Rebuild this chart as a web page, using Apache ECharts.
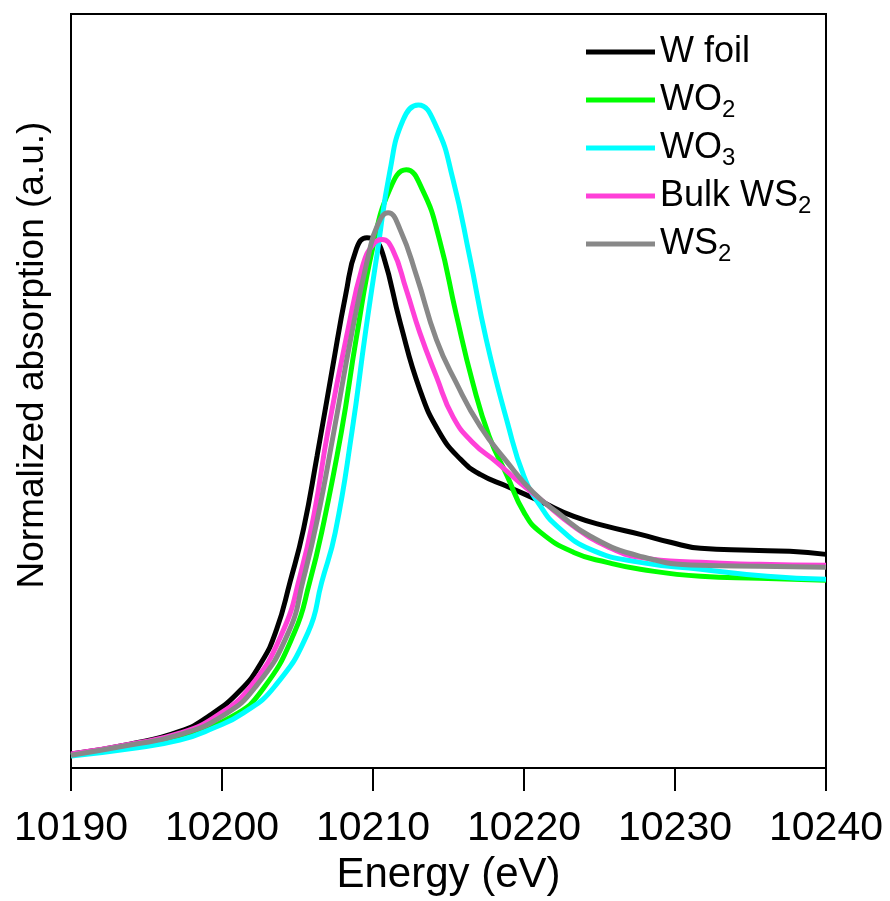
<!DOCTYPE html>
<html>
<head>
<meta charset="utf-8">
<script src="https://cdn.jsdelivr.net/npm/echarts@6/dist/echarts.min.js"></script>
<style>html,body{margin:0;padding:0;background:#fff}#c{width:890px;height:901px}</style>
</head>
<body>
<div id="c"></div>
<script>
// Energy (eV) / normalized absorption (a.u.) pairs
const wFoil = [[10190.0,0.065],[10193.9,0.111],[10197.2,0.170],[10199.2,0.245],[10201.2,0.360],[10202.6,0.490],[10203.6,0.640],[10204.5,0.862],[10205.4,1.110],[10206.3,1.450],[10207.3,1.850],[10208.2,2.200],[10208.9,2.410],[10209.6,2.462],[10210.1,2.453],[10210.7,2.374],[10211.8,2.068],[10213.1,1.757],[10214.4,1.558],[10215.8,1.433],[10217.1,1.363],[10218.9,1.307],[10221.1,1.238],[10223.3,1.168],[10225.5,1.122],[10227.7,1.085],[10229.7,1.048],[10231.7,1.020],[10235.0,1.011],[10237.6,1.006],[10240.0,0.992]];
const wo2 = [[10190.0,0.060],[10193.9,0.102],[10197.2,0.148],[10200.7,0.241],[10202.7,0.366],[10204.8,0.630],[10205.8,0.862],[10206.6,1.094],[10207.9,1.558],[10208.9,1.998],[10210.0,2.420],[10211.1,2.684],[10212.2,2.777],[10213.3,2.680],[10214.4,2.453],[10215.5,2.110],[10216.6,1.790],[10217.7,1.539],[10218.9,1.354],[10220.0,1.187],[10221.1,1.094],[10223.3,1.001],[10225.5,0.955],[10227.7,0.923],[10231.7,0.890],[10235.6,0.881],[10240.0,0.872]];
const wo3 = [[10190.0,0.056],[10193.9,0.090],[10197.2,0.130],[10199.4,0.185],[10201.4,0.255],[10203.5,0.380],[10205.7,0.630],[10206.6,0.862],[10207.5,1.094],[10208.6,1.558],[10209.5,2.021],[10210.3,2.400],[10211.1,2.763],[10212.0,3.009],[10213.0,3.078],[10214.2,2.976],[10215.3,2.731],[10216.4,2.374],[10217.5,1.989],[10218.9,1.604],[10220.0,1.354],[10221.1,1.215],[10222.2,1.122],[10224.4,1.015],[10227.7,0.955],[10231.7,0.923],[10236.1,0.890],[10240.0,0.876]];
const bulkWS2 = [[10190.0,0.065],[10193.9,0.111],[10197.2,0.162],[10199.7,0.245],[10201.9,0.380],[10204.0,0.630],[10205.2,0.900],[10206.1,1.180],[10207.0,1.558],[10208.3,2.021],[10209.3,2.327],[10210.0,2.430],[10210.6,2.453],[10211.3,2.406],[10212.2,2.221],[10213.1,2.021],[10214.2,1.817],[10215.3,1.630],[10216.6,1.511],[10218.2,1.419],[10219.7,1.326],[10221.1,1.247],[10223.3,1.122],[10225.5,1.029],[10227.7,0.978],[10231.7,0.955],[10235.6,0.946],[10240.0,0.941]];
const ws2 = [[10190.0,0.060],[10193.9,0.107],[10197.2,0.155],[10200.1,0.245],[10202.2,0.375],[10204.4,0.630],[10205.4,0.880],[10206.3,1.150],[10207.4,1.558],[10208.6,2.021],[10209.7,2.380],[10210.3,2.520],[10211.0,2.578],[10211.8,2.499],[10212.9,2.281],[10214.2,1.989],[10215.5,1.790],[10217.1,1.586],[10218.9,1.419],[10220.6,1.280],[10222.2,1.187],[10224.4,1.076],[10227.7,0.983],[10231.7,0.941],[10235.6,0.937],[10240.0,0.932]];

const seriesNames = ['W foil', 'WO{s|2}', 'WO{s|3}', 'Bulk WS{s|2}', 'WS{s|2}'];
const seriesData = [wFoil, wo2, wo3, bulkWS2, ws2];
const seriesColors = ['#000000', '#00ff00', '#00ffff', '#ff40d8', '#888888'];
const xTicks = [10190, 10200, 10210, 10220, 10230, 10240];

const FONT = '"Liberation Sans", Arial, sans-serif';
const chart = echarts.init(document.getElementById('c'));
chart.setOption({
  animation: false,
  backgroundColor: '#ffffff',
  grid: { left: 71, right: 64, top: 14, bottom: 132, show: true, borderColor: '#000', borderWidth: 2, backgroundColor: 'transparent' },
  legend: {
    left: 581, top: 23, orient: 'vertical', itemGap: 0,
    icon: 'rect', itemWidth: 69, itemHeight: 5,
    textStyle: {
      fontFamily: FONT, fontSize: 36, color: '#000', lineHeight: 48,
      rich: { s: { fontFamily: FONT, fontSize: 24, color: '#000', padding: [20, 0, 0, 0] } }
    },
    data: seriesNames
  },
  xAxis: {
    type: 'value', min: xTicks[0], max: xTicks[xTicks.length - 1], interval: 10,
    name: 'Energy (eV)', nameLocation: 'middle', nameGap: 85,
    nameTextStyle: { fontFamily: FONT, fontSize: 42, color: '#000' },
    axisLine: { lineStyle: { color: '#000', width: 2 } },
    axisTick: { inside: false, length: 23, lineStyle: { color: '#000', width: 2 } },
    axisLabel: { margin: 40, fontFamily: FONT, fontSize: 41, color: '#000', formatter: v => String(v) },
    splitLine: { show: false }
  },
  yAxis: {
    type: 'value', min: 0, max: 3.5,
    name: 'Normalized absorption (a.u.)', nameLocation: 'middle', nameGap: 20,
    nameTextStyle: { fontFamily: FONT, fontSize: 37, color: '#000', padding: [0, 0, 0, 72] },
    axisLine: { show: false }, axisTick: { show: false }, axisLabel: { show: false }, splitLine: { show: false }
  },
  series: seriesData.map((d, i) => ({
    name: seriesNames[i], type: 'line', data: d, showSymbol: false, symbol: 'none',
    smooth: 0.5, lineStyle: { color: seriesColors[i], width: 5 }, itemStyle: { color: seriesColors[i] }
  }))
});
</script>
</body>
</html>
